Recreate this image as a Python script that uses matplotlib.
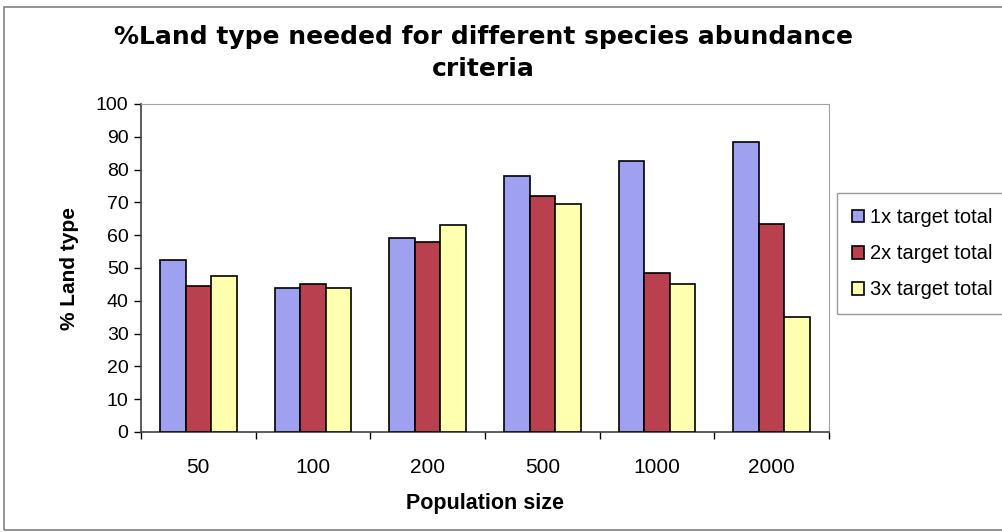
import numpy as np
import matplotlib.pyplot as plt
from matplotlib.patches import Rectangle

plt.rcParams['font.family'] = ['Liberation Sans', 'DejaVu Sans']

# Population sizes and % land type for each abundance target
categories = ['50', '100', '200', '500', '1000', '2000']
series_names = ['1x target total', '2x target total', '3x target total']
target_1x = [52.5, 44, 59, 78, 82.5, 88.5]
target_2x = [44.5, 45, 58, 72, 48.5, 63.5]
target_3x = [47.5, 44, 63, 69.5, 45, 35]
y_ticks = list(range(0, 101, 10))

colors = ['#a0a0f0', '#b8404f', '#ffffb0']

fig = plt.figure(figsize=(10.03, 5.32), dpi=100)
# chart area border
fig.patches.append(Rectangle((4 / 1003, 2 / 532), 1.2, 1 - 9 / 532, transform=fig.transFigure,
                             fill=False, edgecolor='#808080', linewidth=1.2))

ax = fig.add_axes([141 / 1003, 1 - 432 / 532, (829 - 141) / 1003, (432 - 104) / 532])

x = np.arange(len(categories))
w = 1 / 4.5
for i, vals in enumerate([target_1x, target_2x, target_3x]):
    ax.bar(x + (i - 1) * w, vals, width=w, color=colors[i], edgecolor='black',
           linewidth=1.2, label=series_names[i], zorder=3)

ax.set_xlim(-0.5, len(categories) - 0.5)
ax.set_ylim(0, 100)
ax.set_yticks(y_ticks)
ax.tick_params(axis='y', labelsize=14, length=5, width=1, pad=4)

# category labels centred, tick marks between categories
ax.set_xticks(x)
ax.set_xticklabels(categories, fontsize=15)
ax.tick_params(axis='x', which='major', length=0, pad=19)
ax.set_xticks(np.arange(-0.5, len(categories)), minor=True)
ax.tick_params(axis='x', which='minor', length=5, width=1)

for side in ['top', 'right']:
    ax.spines[side].set_color('#a0a0a0')
for side in ['left', 'bottom']:
    ax.spines[side].set_color('#404040')
    ax.spines[side].set_linewidth(1.2)

ax.set_xlabel('Population size', fontsize=15.5, fontweight='bold', labelpad=11)
ax.set_ylabel('% Land type', fontsize=15, fontweight='bold', labelpad=12)
fig.text(0.482, 1 - 53 / 532, '%Land type needed for different species abundance\ncriteria',
         ha='center', va='center', fontsize=18, fontweight='bold', linespacing=1.4,
         family='DejaVu Sans')

fig.legend(loc='upper left', bbox_to_anchor=(837 / 1003, 1 - 193 / 532), fontsize=14.5,
           frameon=True, fancybox=False, edgecolor='#808080', borderpad=0.75,
           labelspacing=0.85, handlelength=0.6, handleheight=0.6, handletextpad=0.3,
           borderaxespad=0)

fig.savefig('out.png', dpi=100)
